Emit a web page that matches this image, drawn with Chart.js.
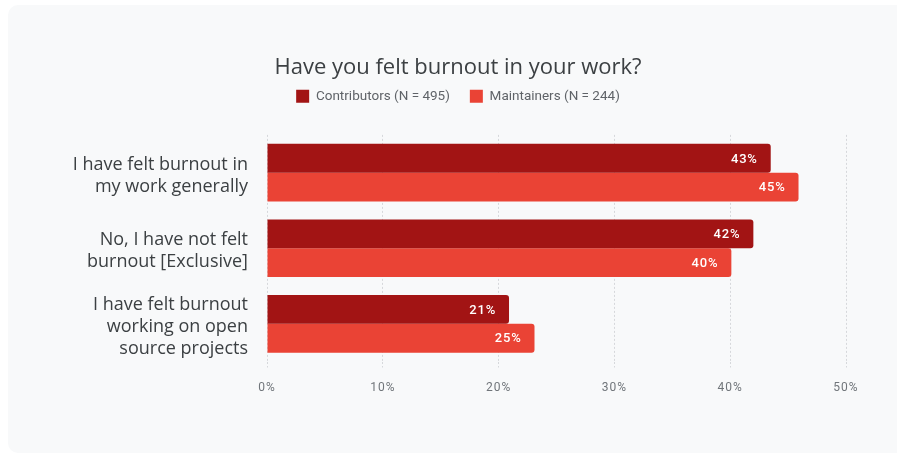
<!DOCTYPE html>
<html>
<head>
<meta charset="utf-8">
<script src="https://cdn.jsdelivr.net/npm/chart.js@4"></script>
<style>
  html, body { margin: 0; padding: 0; background: #fff; overflow: hidden; }
  #panel { position: absolute; left: 8px; top: 5px; width: 900px; height: 448px; background: #f8f9fa; border-radius: 10px; }
  #wrap { position: absolute; left: 0; top: 0; width: 897px; height: 454px; }
</style>
</head>
<body>
<div id="panel"></div>
<div id="wrap"><canvas id="chart" width="897" height="454"></canvas></div>
<script>
// categories (multi-line labels)
const categories = [
    ['I have felt burnout in', 'my work generally'],
    ['No, I have not felt', 'burnout [Exclusive]'],
    ['I have felt burnout', 'working on open', 'source projects']
];
const seriesNames = ['Contributors (N = 495)', 'Maintainers (N = 244)'];
// bar lengths (%)
const contributors = [43.5, 42.0, 20.9];
const maintainers = [45.9, 40.1, 23.1];
// printed value labels
const contributorLabels = ['43%', '42%', '21%'];
const maintainerLabels = ['45%', '40%', '25%'];
const xTicks = [0, 10, 20, 30, 40, 50];

const valueLabels = [contributorLabels, maintainerLabels];

// draws the white percentage inside the end of each bar
const barLabels = {
    id: 'barLabels',
    afterDatasetsDraw(chart) {
        const ctx = chart.ctx;
        ctx.save();
        ctx.font = '500 13px Roboto';
        ctx.letterSpacing = '0.8px';
        ctx.fillStyle = '#ffffff';
        ctx.textAlign = 'right';
        ctx.textBaseline = 'middle';
        chart.data.datasets.forEach((ds, i) => {
            chart.getDatasetMeta(i).data.forEach((bar, j) => {
                ctx.fillText(valueLabels[i][j], bar.x - 13, bar.y + 1);
            });
        });
        ctx.restore();
    }
};

// extra space between legend and plot
const legendGap = {
    id: 'legendGap',
    beforeInit(chart) {
        const fit = chart.legend.fit;
        chart.legend.fit = function () {
            fit.bind(chart.legend)();
            this.height += 22;
        };
    }
};

// letter spacing on x tick labels, small downward nudge on y labels
const tickTweaks = {
    id: 'tickTweaks',
    beforeDraw(chart) {
        const x = chart.scales.x;
        if (!x._tweaked) {
            const origX = x.drawLabels.bind(x);
            x.drawLabels = function (area) {
                chart.ctx.save();
                chart.ctx.letterSpacing = '1px';
                origX(area);
                chart.ctx.restore();
            };
            x._tweaked = true;
        }
        const y = chart.scales.y;
        if (!y._tweaked) {
            const origY = y.drawLabels.bind(y);
            y.drawLabels = function (area) {
                chart.ctx.save();
                chart.ctx.translate(0, 3);
                origY(area);
                chart.ctx.restore();
            };
            y._tweaked = true;
        }
    }
};

new Chart(document.getElementById('chart'), {
    type: 'bar',
    data: {
        labels: categories,
        datasets: [{
            label: seriesNames[0],
            data: contributors,
            backgroundColor: '#a21414',
            borderRadius: 3,
            categoryPercentage: 0.763,
            barPercentage: 1.0
        }, {
            label: seriesNames[1],
            data: maintainers,
            backgroundColor: '#ea4335',
            borderRadius: 3,
            categoryPercentage: 0.763,
            barPercentage: 1.0
        }]
    },
    options: {
        indexAxis: 'y',
        responsive: false,
        animation: false,
        layout: { padding: { top: 0, left: 70, right: 51, bottom: 46 } },
        plugins: {
            title: {
                display: true,
                text: 'Have you felt burnout in your work?',
                color: '#3c4043',
                font: { family: 'Open Sans', size: 22, weight: 'normal' },
                padding: { top: 55, bottom: -12 }
            },
            legend: {
                labels: {
                    color: '#5f6368',
                    font: { family: 'Roboto', size: 13.5 },
                    boxWidth: 13,
                    boxHeight: 13,
                    padding: 20
                }
            },
            tooltip: { enabled: false }
        },
        scales: {
            x: {
                min: 0,
                max: 50,
                afterBuildTicks(scale) {
                    scale.ticks = xTicks.map(v => ({ value: v }));
                },
                ticks: {
                    callback: v => v + '%',
                    color: '#70757a',
                    font: { family: 'Roboto', size: 12 },
                    padding: 13
                },
                grid: {
                    color: '#d6d8db',
                    drawTicks: true,
                    tickLength: 6,
                    tickBorderDash: [2, 2]
                },
                border: { display: false, dash: [2, 2] }
            },
            y: {
                afterFit(scale) { scale.width = 197; },
                ticks: {
                    color: '#3c4043',
                    font: { family: 'Open Sans', size: 18, lineHeight: 1.22 },
                    padding: 19
                },
                grid: { display: false, drawTicks: false },
                border: { display: false }
            }
        }
    },
    plugins: [barLabels, legendGap, tickTweaks]
});
</script>
</body>
</html>
